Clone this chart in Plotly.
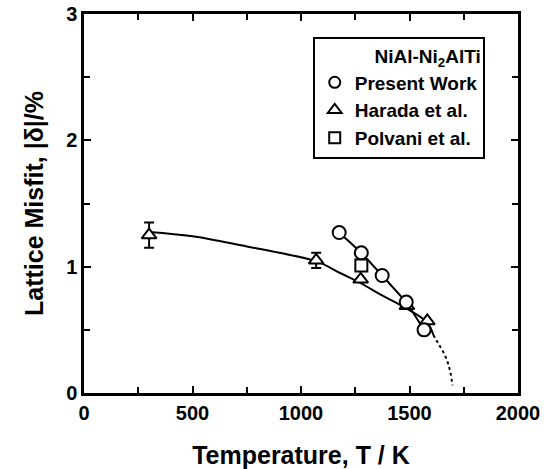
import plotly.graph_objects as go

# --- data ---
present_T = [1176, 1278, 1374, 1485, 1567]
present_d = [1.27, 1.11, 0.93, 0.72, 0.50]

harada_T = [300, 1070, 1275, 1488, 1582]
harada_d = [1.25, 1.05, 0.90, 0.69, 0.57]
harada_err = [0.10, 0.06, 0.0, 0.0, 0.0]

polvani_T = [1278]
polvani_d = [1.01]

# fitted curve (solid) through Harada data
fit_T = [300, 500, 750, 900, 1075, 1180, 1275, 1365, 1480, 1580, 1610]
fit_d = [1.275, 1.24, 1.16, 1.11, 1.04, 0.95, 0.87, 0.78, 0.675, 0.56, 0.46]
# extrapolated part (dotted)
ext_T = [1610, 1630, 1651, 1668, 1680, 1690, 1698]
ext_d = [0.46, 0.40, 0.34, 0.28, 0.22, 0.15, 0.06]

FONT = "Liberation Sans, Arial, sans-serif"

fig = go.Figure()

fig.add_trace(go.Scatter(x=fit_T, y=fit_d, mode="lines", line=dict(color="black", width=2, shape="spline"),
                         showlegend=False, hoverinfo="skip"))
fig.add_trace(go.Scatter(x=ext_T, y=ext_d, mode="lines", line=dict(color="black", width=2, dash="dot", shape="spline"),
                         showlegend=False, hoverinfo="skip"))
fig.add_trace(go.Scatter(x=present_T, y=present_d, mode="lines", line=dict(color="black", width=2),
                         showlegend=False, hoverinfo="skip"))

mk = dict(color="white", line=dict(color="black", width=2))
fig.add_trace(go.Scatter(x=harada_T, y=harada_d, mode="markers",
                         marker=dict(symbol="triangle-up", size=13, **mk),
                         error_y=dict(type="data", array=harada_err, color="black", thickness=2, width=5),
                         showlegend=False, name="Harada et al."))
fig.add_trace(go.Scatter(x=polvani_T, y=polvani_d, mode="markers",
                         marker=dict(symbol="square", size=12, **mk), showlegend=False, name="Polvani et al."))
fig.add_trace(go.Scatter(x=present_T, y=present_d, mode="markers",
                         marker=dict(symbol="circle", size=13, **mk), showlegend=False, name="Present Work"))

# legend entries (markers only)
for name, sym, sz in [("Present Work", "circle", 11), ("Harada et al.", "triangle-up", 12), ("Polvani et al.", "square", 11)]:
    fig.add_trace(go.Scatter(x=[None], y=[None], mode="markers", name=name,
                             marker=dict(symbol=sym, size=sz, color="white", line=dict(color="black", width=2))))

axis_common = dict(showline=True, linecolor="black", linewidth=2.5, mirror="allticks",
                   ticks="inside", ticklen=7, tickwidth=2, tickcolor="black",
                   showgrid=False, zeroline=False, automargin=False,
                   tickfont=dict(family=FONT, size=20, color="black", weight="bold"))

fig.update_xaxes(range=[0, 2000], tickvals=[0, 500, 1000, 1500, 2000],
                 minor=dict(ticks="inside", ticklen=6, tickwidth=2, tickcolor="black", tickvals=[250, 750, 1250, 1750]),
                 title=dict(text="Temperature, T / K", font=dict(family=FONT, size=25, color="black", weight="bold"),
                            standoff=24),
                 **axis_common)
fig.update_yaxes(range=[0, 3], tickvals=[0, 1, 2, 3],
                 minor=dict(ticks="inside", ticklen=6, tickwidth=2, tickcolor="black", tickvals=[0.5, 1.5, 2.5]),
                 title=dict(text="Lattice Misfit, |δ|/%", font=dict(family=FONT, size=25, color="black", weight="bold"),
                            standoff=16),
                 **axis_common)

fig.update_layout(
    width=546, height=469,
    margin=dict(l=84, r=28, t=14, b=76),
    paper_bgcolor="white", plot_bgcolor="white",
    legend=dict(x=0.527, y=0.94, xanchor="left", yanchor="top",
                bordercolor="black", borderwidth=2, bgcolor="white",
                font=dict(family=FONT, size=19, color="black", weight="bold"),
                title=dict(text="NiAl-Ni<sub>2</sub>AlTi", side="top right",
                           font=dict(family=FONT, size=19, color="black", weight="bold")),
                itemwidth=30, tracegroupgap=0),
)

fig.write_html("out.html")
